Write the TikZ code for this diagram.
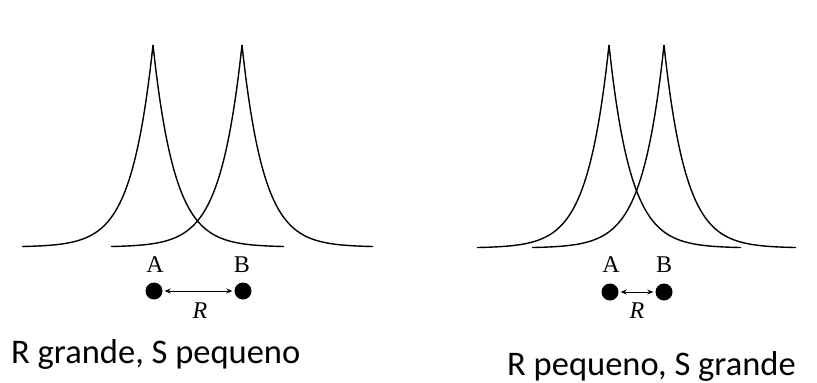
\documentclass[tikz,border=0pt]{standalone}
\usepackage{fontspec}
\setmainfont{Liberation Serif}
\newfontfamily\capfont{Carlito}
\usetikzlibrary{arrows.meta}
\begin{document}
\begin{tikzpicture}[x=1pt,y=-1pt,
  curve/.style={line width=1.4pt,black},
  atom/.style={circle,fill=black,inner sep=0pt,minimum size=17pt},
  lbl/.style={anchor=base,inner sep=0pt,font=\fontsize{24}{24}\selectfont},
  caption/.style={anchor=base west,inner sep=0pt,font=\capfont\fontsize{34.5}{35}\selectfont},
  dist/.style={{Stealth[length=6pt,width=5pt]}-{Stealth[length=6pt,width=5pt]},line width=0.8pt,shorten <=2pt,shorten >=2pt}]
\useasboundingbox (0,0) rectangle (817,383);
% left panel curves
\foreach \c in {153,242}{
  \draw[curve] plot[domain=0:131,samples=80,smooth] ({\c-\x},{247-202*exp(-0.046*\x)});
  \draw[curve] plot[domain=0:131,samples=80,smooth] ({\c+\x},{247-202*exp(-0.046*\x)});
}
% right panel curves
\foreach \c in {609,664}{
  \draw[curve] plot[domain=0:132,samples=80,smooth] ({\c-\x},{248-203*exp(-0.046*\x)});
  \draw[curve] plot[domain=0:132,samples=80,smooth] ({\c+\x},{248-203*exp(-0.046*\x)});
}
% left panel atoms
\node[atom] (a1) at (154,291) {};
\node[atom] (b1) at (243,291) {};
\draw[dist] (a1) -- (b1);
\node[lbl] (la1) at (155,272) {A};
\node[lbl] (lb1) at (242,272) {B};
\node[lbl] (lr1) at (200,318) {\itshape R};
% right panel atoms
\node[atom] (a2) at (610,292) {};
\node[atom] (b2) at (664,292) {};
\draw[dist] (a2) -- (b2);
\node[lbl] (la2) at (611,272) {A};
\node[lbl] (lb2) at (664,272) {B};
\node[lbl] (lr2) at (637,318) {\itshape R};
% captions
\node[caption] (c1) at (11,363) {R grande, S pequeno};
\node[caption] (c2) at (507,375) {R pequeno, S grande};
\end{tikzpicture}
\end{document}
